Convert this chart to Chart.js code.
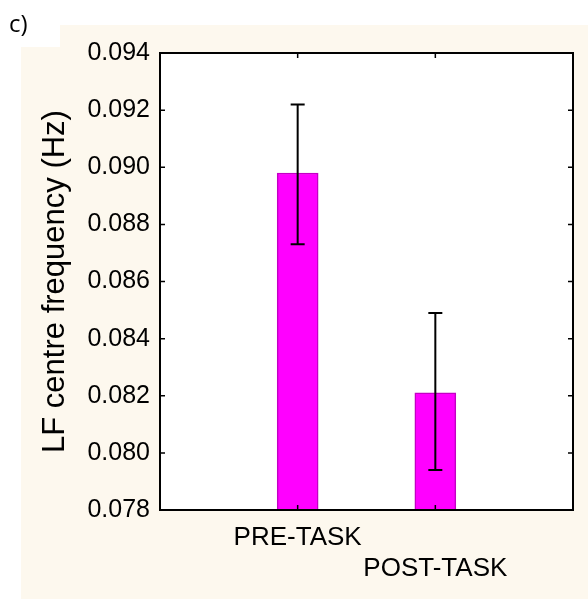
<!DOCTYPE html>
<html>
<head>
<meta charset="utf-8">
<script src="https://cdn.jsdelivr.net/npm/chart.js@4"></script>
<style>
  html, body { margin: 0; padding: 0; background: #fff; }
  #wrap { width: 588px; height: 599px; }
</style>
</head>
<body>
<div id="wrap"><canvas id="myBar"></canvas></div>
<script>
// data
var categories = ['', 'PRE-TASK', 'POST-TASK', ''];
var means = [null, 0.0898, 0.0821, null];
var errLow = [null, 0.0873, 0.0794, null];
var errHigh = [null, 0.0922, 0.0849, null];
var yTicks = [0.078, 0.080, 0.082, 0.084, 0.086, 0.088, 0.090, 0.092, 0.094];

var cream = '#fdf8ee';

var backdrop = {
  id: 'backdrop',
  beforeDraw: function (chart) {
    var c = chart.ctx, a = chart.chartArea;
    c.save();
    c.fillStyle = '#fff';
    c.fillRect(0, 0, chart.width, chart.height);
    c.fillStyle = cream;
    c.beginPath();
    c.moveTo(60, 25); c.lineTo(588, 25); c.lineTo(588, 599);
    c.lineTo(21, 599); c.lineTo(21, 47); c.lineTo(60, 47);
    c.closePath();
    c.fill();
    c.fillStyle = '#fff';
    c.fillRect(a.left, a.top, a.right - a.left, a.bottom - a.top);
    c.fillStyle = '#000';
    c.font = '24px "Open Sans", sans-serif';
    c.textBaseline = 'alphabetic';
    c.fillText('c)', 9, 32);
    c.restore();
  }
};

var frame = {
  id: 'frame',
  afterDatasetsDraw: function (chart) {
    var c = chart.ctx, a = chart.chartArea;
    var x = chart.scales.x, y = chart.scales.y;
    c.save();
    c.strokeStyle = '#000';
    // error bars
    c.lineWidth = 2;
    for (var i = 0; i < means.length; i++) {
      if (means[i] == null) continue;
      var px = x.getPixelForValue(i);
      var lo = y.getPixelForValue(errLow[i]);
      var hi = y.getPixelForValue(errHigh[i]);
      c.beginPath();
      c.moveTo(px, lo); c.lineTo(px, hi);
      c.moveTo(px - 7, lo); c.lineTo(px + 7, lo);
      c.moveTo(px - 7, hi); c.lineTo(px + 7, hi);
      c.stroke();
    }
    // inside tick marks
    c.lineWidth = 1.5;
    c.beginPath();
    yTicks.forEach(function (v) {
      var py = y.getPixelForValue(v);
      c.moveTo(a.left, py); c.lineTo(a.left + 5, py);
      c.moveTo(a.right, py); c.lineTo(a.right - 5, py);
    });
    for (var j = 0; j < means.length; j++) {
      if (means[j] == null) continue;
      var tx = x.getPixelForValue(j);
      c.moveTo(tx, a.bottom); c.lineTo(tx, a.bottom - 5);
      c.moveTo(tx, a.top); c.lineTo(tx, a.top + 5);
    }
    c.stroke();
    // plot frame
    c.lineWidth = 2;
    c.strokeRect(a.left, a.top, a.right - a.left, a.bottom - a.top);
    c.restore();
  }
};

var ctx = document.getElementById('myBar');
var barChart = new Chart(ctx, {
  type: 'bar',
  data: {
    labels: categories,
    datasets: [{
      label: 'LF centre frequency',
      data: means,
      backgroundColor: '#ff00ff',
      borderColor: '#c400c4',
      borderWidth: 1.5,
      barThickness: 41
    }]
  },
  options: {
    responsive: true,
    maintainAspectRatio: false,
    animation: false,
    layout: { padding: { left: 0, top: 53, right: 15, bottom: 0 } },
    plugins: {
      legend: { display: false },
      tooltip: { enabled: false }
    },
    scales: {
      x: {
        type: 'category',
        offset: false,
        grid: { display: false, drawTicks: false },
        border: { display: false },
        ticks: {
          autoSkip: false,
          maxRotation: 0,
          padding: 12,
          color: '#000',
          font: { family: '"Liberation Sans", Arial, sans-serif', size: 26, lineHeight: 1.19 },
          callback: function (value, index) {
            var name = categories[index];
            if (!name) return '';
            return index % 2 === 1 ? [name, ''] : ['', name];
          }
        },
        afterFit: function (scale) { scale.height = 89; }
      },
      y: {
        min: 0.078,
        max: 0.094,
        grid: { display: false, drawTicks: false },
        border: { display: false },
        ticks: {
          stepSize: 0.002,
          padding: 10,
          color: '#000',
          font: { family: '"Liberation Sans", Arial, sans-serif', size: 25 },
          callback: function (v) { return v.toFixed(3); }
        },
        title: {
          display: true,
          text: 'LF centre frequency (Hz)',
          color: '#000',
          padding: { top: 37, bottom: 0 },
          font: { family: '"Liberation Sans", Arial, sans-serif', size: 31, lineHeight: 1.2 }
        },
        afterFit: function (scale) { scale.width = 160; }
      }
    }
  },
  plugins: [backdrop, frame]
});
</script>
</body>
</html>
